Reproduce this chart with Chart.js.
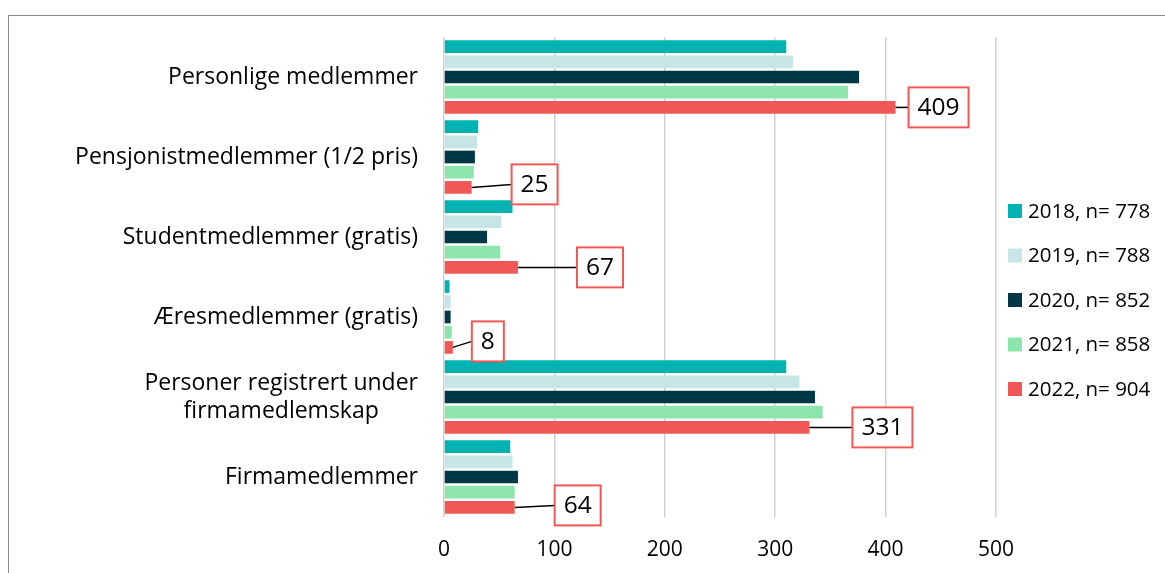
<!DOCTYPE html>
<html>
<head>
<meta charset="utf-8">
<script src="https://cdn.jsdelivr.net/npm/chart.js@4"></script>
<style>
  html, body { margin:0; padding:0; background:#fff; overflow:hidden; }
  #wrap { position:relative; width:1165px; height:573px; }
  #frame { position:absolute; left:8px; top:15px; width:1200px; height:600px; border-top:1px solid #8a8a8a; border-left:1px solid #8a8a8a; }
  canvas { position:absolute; left:0; top:0; }
</style>
</head>
<body>
<div id="wrap">
  <div id="frame"></div>
  <canvas id="chart" width="1165" height="573"></canvas>
</div>
<script>
const categories = [
  ['Personlige medlemmer'],
  ['Pensjonistmedlemmer (1/2 pris)'],
  ['Studentmedlemmer (gratis)'],
  ['Æresmedlemmer (gratis)'],
  ['Personer registrert under', 'firmamedlemskap'],
  ['Firmamedlemmer']
];
const seriesLabels = ['2018, n= 778', '2019, n= 788', '2020, n= 852', '2021, n= 858', '2022, n= 904'];
const s2018 = [310, 31, 62, 5, 310, 60];
const s2019 = [316, 30, 52, 6, 322, 62];
const s2020 = [376, 28, 39, 6, 336, 67];
const s2021 = [366, 27, 51, 7, 343, 64];
const s2022 = [409, 25, 67, 8, 331, 64];
const xTicks = [0, 100, 200, 300, 400, 500];

const COLORS = ['#00B2B2', '#C5E5E6', '#023747', '#8CE5AA', '#F25757'];
const FONT = '"Open Sans", Lato, sans-serif';

// callout placement for the 2022 labels: gap from bar end, vertical shift
const CALLOUT = [[13, 0], [40, -3], [59, 0], [19, -6], [43, 0], [40, -2]];

const yLabels = {
  id: 'yLabels',
  afterDraw(chart) {
    const { ctx, scales: { y } } = chart;
    ctx.save();
    ctx.font = `23px ${FONT}`;
    ctx.fillStyle = '#000';
    ctx.textBaseline = 'middle';
    ctx.textAlign = 'center';
    const right = y.right - 26, lh = 28;
    categories.forEach((lines, i) => {
      const cy = y.getPixelForValue(i);
      const w = Math.max(...lines.map(l => ctx.measureText(l).width));
      lines.forEach((l, k) => ctx.fillText(l, right - w / 2, cy + (k - (lines.length - 1) / 2) * lh));
    });
    ctx.restore();
  }
};

const sideLegend = {
  id: 'sideLegend',
  afterDraw(chart) {
    const { ctx, chartArea } = chart;
    ctx.save();
    ctx.font = `20.5px ${FONT}`;
    ctx.textBaseline = 'middle';
    ctx.textAlign = 'left';
    const x0 = chartArea.right + 12, y0 = chartArea.top + 174, step = 44.5;
    chart.data.datasets.forEach((ds, i) => {
      const cy = y0 + i * step;
      ctx.fillStyle = ds.backgroundColor;
      ctx.fillRect(x0, cy - 7, 14, 14);
      ctx.fillStyle = '#000';
      ctx.fillText(ds.label, x0 + 20, cy + 1);
    });
    ctx.restore();
  }
};

const callouts = {
  id: 'callouts',
  afterDatasetsDraw(chart) {
    const { ctx } = chart;
    const meta = chart.getDatasetMeta(4);
    ctx.save();
    ctx.font = `24.5px ${FONT}`;
    ctx.textBaseline = 'middle';
    ctx.textAlign = 'center';
    meta.data.forEach((bar, i) => {
      const txt = String(s2022[i]);
      const [gap, dy] = CALLOUT[i];
      const w = ctx.measureText(txt).width + 18, h = 40;
      const bx = bar.x + gap, cy = bar.y + dy;
      ctx.strokeStyle = '#000';
      ctx.lineWidth = 1.5;
      ctx.beginPath();
      ctx.moveTo(bar.x, bar.y);
      ctx.lineTo(bx, cy);
      ctx.stroke();
      ctx.fillStyle = '#fff';
      ctx.fillRect(bx, cy - h / 2, w, h);
      ctx.strokeStyle = '#F25757';
      ctx.lineWidth = 2;
      ctx.strokeRect(bx, cy - h / 2, w, h);
      ctx.fillStyle = '#000';
      ctx.fillText(txt, bx + w / 2, cy + 1);
    });
    ctx.restore();
  }
};

const series = [s2018, s2019, s2020, s2021, s2022];
const datasets = series.map((data, i) => ({
  label: seriesLabels[i],
  data,
  backgroundColor: COLORS[i],
  categoryPercentage: 0.95,
  barPercentage: 0.835
}));

new Chart(document.getElementById('chart'), {
  type: 'bar',
  data: { labels: categories.map(c => c.join(' ')), datasets },
  options: {
    indexAxis: 'y',
    responsive: false,
    animation: false,
    layout: { padding: { top: 37, right: 169, bottom: 0, left: 0 } },
    plugins: { legend: { display: false }, tooltip: { enabled: false } },
    scales: {
      x: {
        min: 0, max: 500,
        afterBuildTicks: s => { s.ticks = xTicks.map(v => ({ value: v })); },
        afterFit: s => { s.height = 56; },
        border: { display: false },
        grid: { color: '#d0d0d0', lineWidth: 1.5, drawTicks: false },
        ticks: { padding: 20, color: '#000', font: { family: FONT, size: 21 } }
      },
      y: {
        afterFit: s => { s.width = 444; },
        border: { display: false },
        grid: { display: false },
        ticks: { display: false }
      }
    }
  },
  plugins: [yLabels, sideLegend, callouts]
});
</script>
</body>
</html>
